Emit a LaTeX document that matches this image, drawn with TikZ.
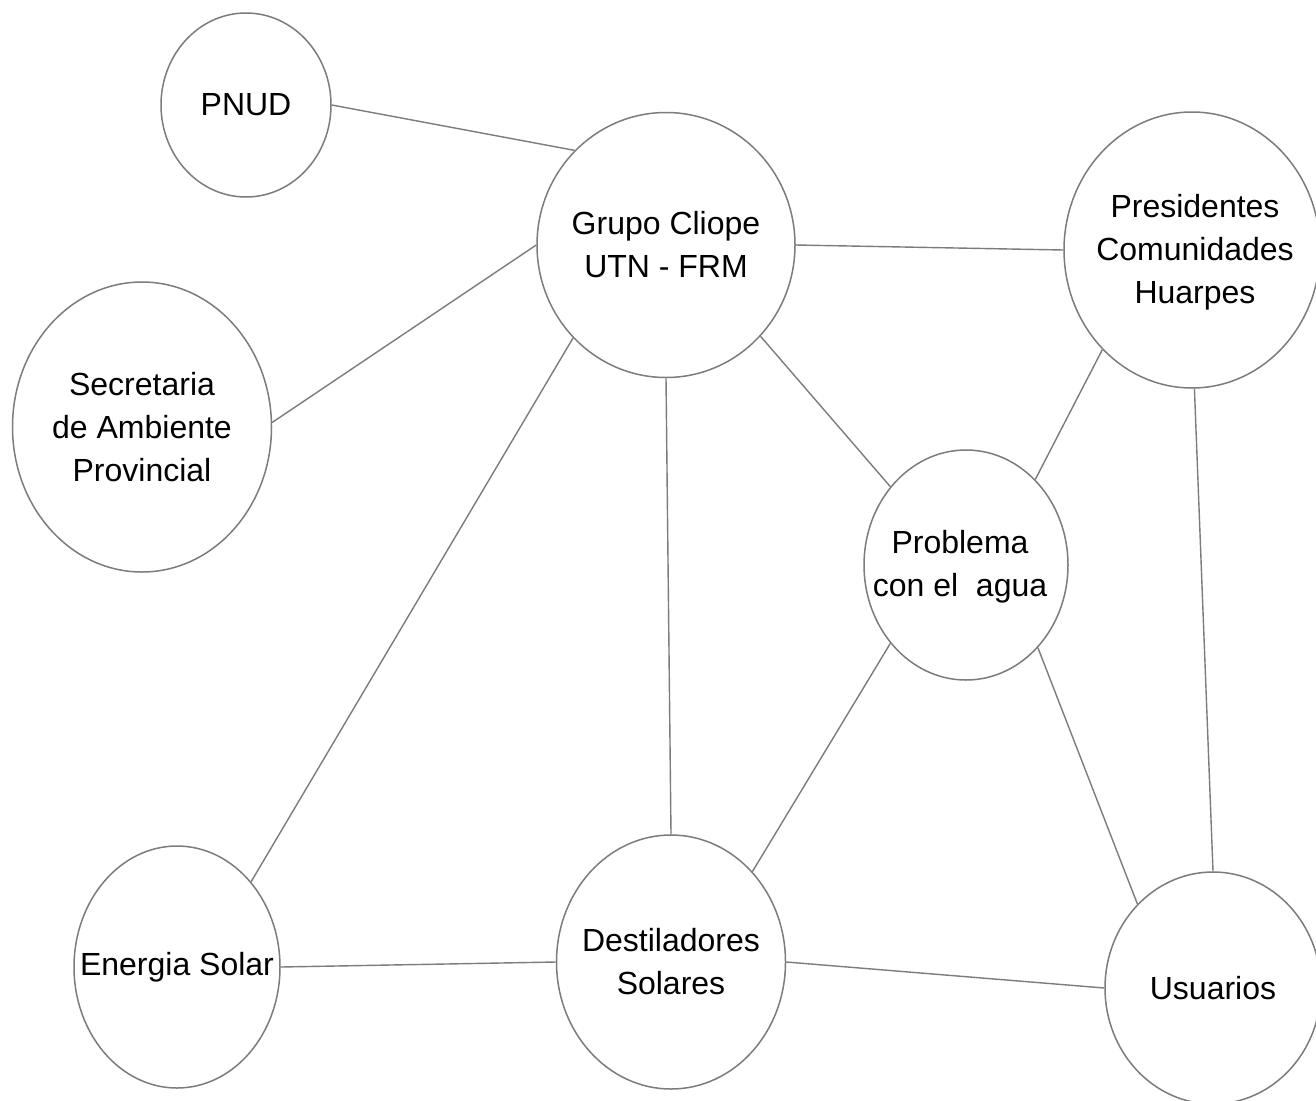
\documentclass[tikz,border=0pt]{standalone}
\usepackage{fontspec}
\setmainfont{Liberation Sans}
\usetikzlibrary{shapes.geometric}
\definecolor{edgegray}{HTML}{7C7C7C}
\tikzset{
  bub/.style={draw=edgegray, line width=1.5pt, shape=ellipse, inner sep=0pt, fill=white},
  lbl/.style={align=center, inner sep=0pt, text=black, font=\fontsize{32}{43}\selectfont},
  link/.style={draw=edgegray, line width=1.4pt}
}
\begin{document}
\begin{tikzpicture}[x=1pt,y=-1pt]
\useasboundingbox (0,0) rectangle (1316,1100);
\fill[white] (0,0) rectangle (1316,1100);
% bubbles
\node[bub, minimum width=170pt, minimum height=184pt] (pnud) at (246,105) {};
\node[bub, minimum width=258pt, minimum height=265pt] (grupo) at (666,245) {};
\node[bub, minimum width=256pt, minimum height=276pt] (pres) at (1192,250) {};
\node[bub, minimum width=259pt, minimum height=290pt] (sec) at (142,427) {};
\node[bub, minimum width=204pt, minimum height=230pt] (prob) at (966,565) {};
\node[bub, minimum width=206pt, minimum height=242pt] (ener) at (177,967) {};
\node[bub, minimum width=229pt, minimum height=254pt] (dest) at (671,962) {};
\node[bub, minimum width=216pt, minimum height=232pt] (usu) at (1213,988) {};
% labels
\node[lbl] (pnud-t) at (pnud) {PNUD};
\node[lbl] (grupo-t) at (grupo) {Grupo Cliope\\UTN - FRM};
\node[lbl] (pres-t) at (1195,252) {Presidentes\\Comunidades\\Huarpes};
\node[lbl] (sec-t) at (sec) {Secretaria\\de Ambiente\\Provincial};
\node[lbl] (prob-t) at (960,567) {Problema\\con el\ \ agua};
\node[lbl] (ener-t) at (ener) {Energia Solar};
\node[lbl] (dest-t) at (dest) {Destiladores\\Solares};
\node[lbl] (usu-t) at (usu) {Usuarios};
% connectors
\path[link] (pnud.0) -- (grupo.134);
\path[link] (grupo.0) -- (pres.180);
\path[link] (sec.2) -- (grupo.180);
\path[link] (grupo.225) -- (ener.49);
\path[link] (grupo.-90) -- (dest.90);
\path[link] (grupo.-44) -- (prob.134);
\path[link] (pres.228) -- (prob.51);
\path[link] (pres.-89) -- (usu.90);
\path[link] (prob.-134) -- (dest.48);
\path[link] (prob.-49) -- (usu.132);
\path[link] (ener.0) -- (dest.180);
\path[link] (dest.0) -- (usu.180);
\end{tikzpicture}
\end{document}
